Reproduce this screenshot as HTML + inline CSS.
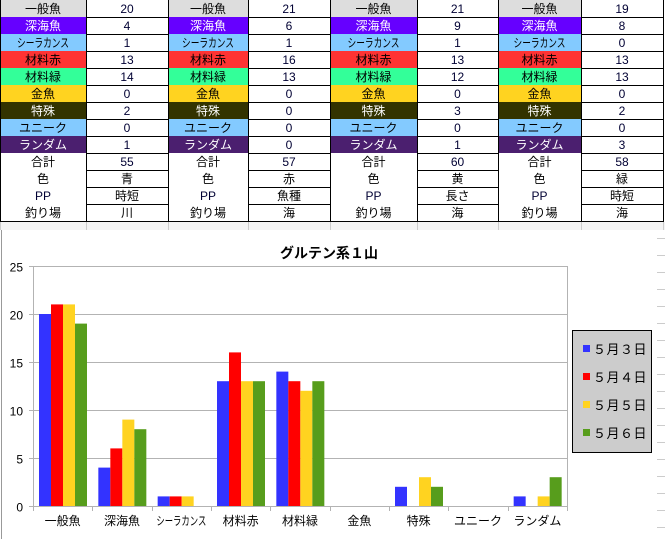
<!DOCTYPE html>
<html><head><meta charset="utf-8"><style>
body{margin:0;width:665px;height:539px;overflow:hidden;background:#fff;font-family:"Liberation Sans","Noto Sans CJK JP",sans-serif}
</style></head><body>
<svg width="665" height="539" xmlns="http://www.w3.org/2000/svg" font-family="Liberation Sans, Noto Sans CJK JP, sans-serif">
<rect width="665" height="539" fill="#fff"/>
<g id="tbl" font-size="12" text-anchor="middle"></g>
<g id="chart"></g>
</svg>
<script>
const NS="http://www.w3.org/2000/svg";
function el(p,t,a,txt){const e=document.createElementNS(NS,t);for(const k in a)e.setAttribute(k,a[k]);if(txt!=null)e.textContent=txt;p.appendChild(e);return e;}
const tbl=document.getElementById('tbl');
const cols=[0,86,168,248,330,417,498,581,663];
const labels=[["一般魚","#dddddd","#000"],["深海魚","#6600ff","#fff"],["シーラカンス","#83caff","#000"],["材料赤","#ff3333","#000"],["材料緑","#33ff99","#000"],["金魚","#ffd320","#000"],["特殊","#333300","#fff"],["ユニーク","#83caff","#000"],["ランダム","#4b1f6f","#fff"],["合計","#fff","#000"],["色","#fff","#000"],["PP","#fff","#000033"],["釣り場","#fff","#000"]];
const vals=[[20,4,1,13,14,0,2,0,1,55,"青","時短","川"],[21,6,1,16,13,0,0,0,0,57,"赤","魚種","海"],[21,9,1,13,12,0,3,0,1,60,"黄","長さ","海"],[19,8,0,13,13,0,2,0,3,58,"緑","時短","海"]];
for(let r=0;r<13;r++){const y=r*17;
 for(let g=0;g<4;g++){
  const x0=cols[g*2],x1=cols[g*2+1],x2=cols[g*2+2];
  el(tbl,'rect',{x:x0,y:y,width:x1-x0,height:17,fill:labels[r][1]});
  const a={x:(x0+x1)/2,y:y+13,fill:labels[r][2]};
  if(labels[r][0]=="シーラカンス"){a.textLength=52;a.lengthAdjust="spacingAndGlyphs";}
  el(tbl,'text',a,labels[r][0]);
  const v=vals[g][r];
  el(tbl,'text',{x:(x1+x2)/2,y:y+13,fill:typeof v=="number"?"#000033":"#000"},v);
 }
 el(tbl,'line',{x1:0,x2:663,y1:y+17.5,y2:y+17.5,stroke:'#000'});
}
cols.forEach(c=>el(tbl,'line',{x1:c+0.5,x2:c+0.5,y1:0,y2:222,stroke:'#000'}));
el(tbl,'rect',{x:0,y:222,width:665,height:8,fill:'#f4f4f4'});
cols.forEach(c=>el(tbl,'line',{x1:c+0.5,x2:c+0.5,y1:222,y2:230,stroke:'#ccc'}));
const ch=document.getElementById('chart');
el(ch,'line',{x1:1.5,x2:1.5,y1:230,y2:539,stroke:'#999'});
el(ch,'text',{x:329,y:258,'font-size':14,'font-weight':'bold','text-anchor':'middle'},"グルテン系１山");
const L=33,R=567,T=266,B=506,u=(B-T)/25;
for(let i=0;i<=5;i++){const y=Math.round(B-i*5*u)+0.5;
 el(ch,'line',{x1:L-4,x2:R,y1:y,y2:y,stroke:'#b3b3b3'});
 el(ch,'text',{x:23,y:y+5,'font-size':12,'text-anchor':'end'},i*5);}
el(ch,'line',{x1:L+0.5,x2:L+0.5,y1:T,y2:B+5,stroke:'#b3b3b3'});
el(ch,'line',{x1:R+0.5,x2:R+0.5,y1:T,y2:B+5,stroke:'#b3b3b3'});
const cats=["一般魚","深海魚","シーラカンス","材料赤","材料緑","金魚","特殊","ユニーク","ランダム"];
const colors=["#3333ff","#ff0000","#ffd320","#579d1c"];
const cw=(R-L)/9;
for(let c=0;c<9;c++){const cx=L+c*cw;
 el(ch,'line',{x1:Math.round(cx+cw)+0.5,x2:Math.round(cx+cw)+0.5,y1:B,y2:B+5,stroke:'#b3b3b3'});
 const a={x:cx+cw/2,y:B+19,'font-size':12,'text-anchor':'middle'};
 if(c==2){a.textLength=50;a.lengthAdjust="spacingAndGlyphs";}
 el(ch,'text',a,cats[c]);
 for(let s=0;s<4;s++){const v=vals[s][c];if(!v)continue;
  const h=v*u;el(ch,'rect',{x:cx+6+s*12,y:B-h,width:12,height:h,fill:colors[s]});}
}
el(ch,'rect',{x:572.5,y:330.5,width:79,height:122,fill:'#cccccc',stroke:'#000'});
const fw=["３","４","５","６"];
for(let s=0;s<4;s++){const y=349+s*28;
 el(ch,'rect',{x:583,y:y-4,width:7,height:7,fill:colors[s]});
 el(ch,'text',{x:593,y:y+5,'font-size':13,'letter-spacing':'0.5'},"５月"+fw[s]+"日");}
for(let y=238;y<539;y+=17)el(ch,'line',{x1:657,x2:665,y1:y+.5,y2:y+.5,stroke:'#ccc'});
</script>
</body></html>
